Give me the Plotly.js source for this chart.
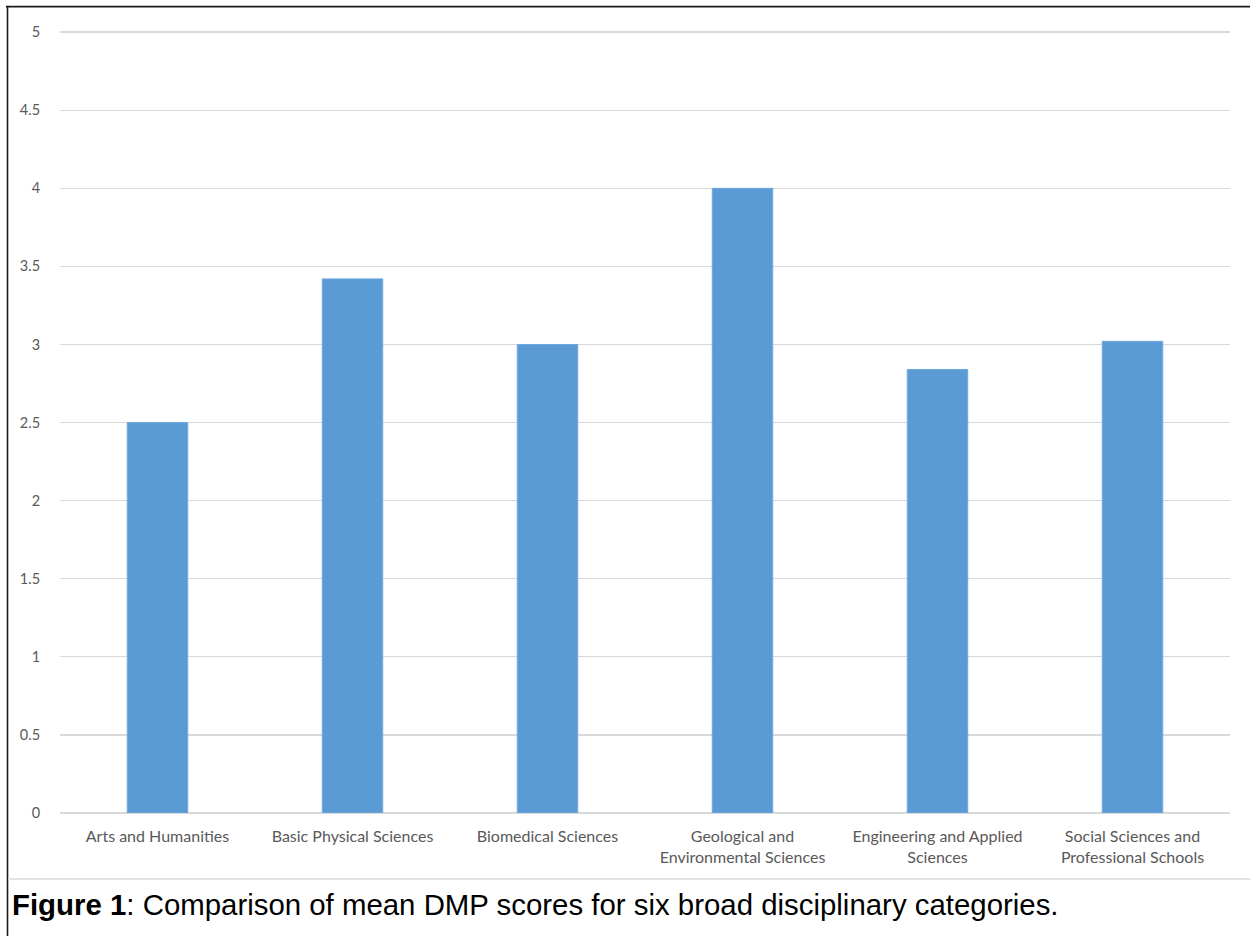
<!DOCTYPE html>
<html>
<head>
<meta charset="utf-8">
<script src="https://cdn.plot.ly/plotly-3.0.1.min.js"></script>
<style>html,body{margin:0;padding:0;background:#fff;}#chart{width:1250px;height:936px;}</style>
</head>
<body>
<div id="chart"></div>
<script>
var categories = [
  "Arts and Humanities",
  "Basic Physical Sciences",
  "Biomedical Sciences",
  "Geological and<br>Environmental Sciences",
  "Engineering and Applied<br>Sciences",
  "Social Sciences and<br>Professional Schools"
];
var meanScores = [2.5, 3.42, 3.0, 4.0, 2.84, 3.02];
var yTicks = [0, 0.5, 1, 1.5, 2, 2.5, 3, 3.5, 4, 4.5, 5];
var captionBold = "Figure 1";
var captionRest = ": Comparison of mean DMP scores for six broad disciplinary categories.";

var W = 1250, H = 936;
var yMax = 5.02;
var mL = 60, mR = 20, mB = 123;
var unitPx = 156.2;
var mT = H - mB - unitPx * yMax;
var pw = W - mL - mR, ph = H - mT - mB;
function px(x){ return (x - mL) / pw; }
function py(y){ return (H - mB - y) / ph; }

var trace = {
  type: "bar",
  x: categories,
  y: meanScores,
  marker: {color: "#5b9bd5", line: {color: "#6fa8dc", width: 1}},
  hoverinfo: "x+y"
};

var layout = {
  width: W, height: H,
  margin: {l: mL, r: mR, t: mT, b: mB, pad: 0},
  paper_bgcolor: "#ffffff",
  plot_bgcolor: "#ffffff",
  showlegend: false,
  bargap: 0.69,
  font: {family: "Lato, 'Open Sans', sans-serif", color: "#595959", size: 14},
  xaxis: {
    type: "category",
    showgrid: false,
    zeroline: false,
    showline: false,
    ticks: "outside", ticklen: 9, tickcolor: "rgba(0,0,0,0)",
    tickfont: {size: 16, color: "#595959"},
    fixedrange: true
  },
  yaxis: {
    range: [0, yMax],
    tickvals: yTicks,
    ticktext: yTicks.map(String),
    showgrid: true,
    gridcolor: "#d9d9d9",
    gridwidth: 1.3,
    zeroline: true,
    zerolinecolor: "#d9d9d9",
    zerolinewidth: 1.3,
    showline: false,
    ticks: "outside", ticklen: 16, tickcolor: "rgba(0,0,0,0)",
    tickfont: {size: 14.5, color: "#595959"},
    fixedrange: true
  },
  shapes: [
    {type: "line", xref: "paper", yref: "paper", x0: px(6), x1: px(1250), y0: py(6.5), y1: py(6.5), line: {color: "#1a1a1a", width: 1.6}},
    {type: "line", xref: "paper", yref: "paper", x0: px(7.5), x1: px(7.5), y0: py(6), y1: py(936), line: {color: "#1a1a1a", width: 1.6}},
    {type: "line", xref: "paper", yref: "paper", x0: px(8), x1: px(1250), y0: py(879), y1: py(879), line: {color: "#d9d9d9", width: 1.5}}
  ],
  annotations: [
    {
      xref: "paper", yref: "paper",
      x: px(10), y: py(905),
      xanchor: "left", yanchor: "middle",
      showarrow: false,
      align: "left",
      text: "<b>" + captionBold + "</b>" + captionRest,
      font: {family: "'Liberation Sans', Arial, sans-serif", size: 29.4, color: "#000000"}
    }
  ]
};

Plotly.newPlot("chart", [trace], layout, {displayModeBar: false, staticPlot: true});
</script>
</body>
</html>
